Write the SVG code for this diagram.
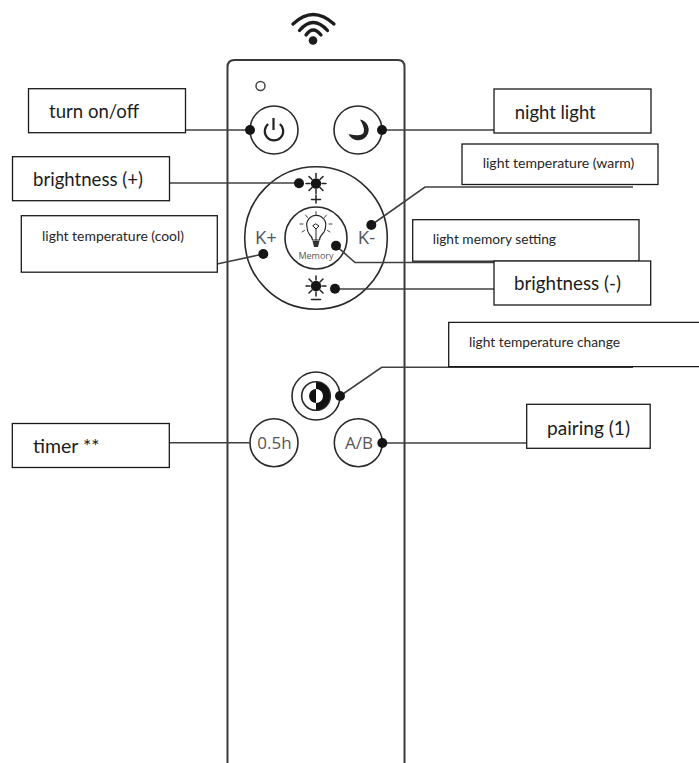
<svg xmlns="http://www.w3.org/2000/svg" width="699" height="763" viewBox="0 0 699 763">
<style>
.box{fill:#fff;stroke:#1a1a1a;stroke-width:1.3}
.big{font:18.5px Lato,"Noto Sans",sans-serif;fill:#1c1c1c}
.small{font:13px Lato,"Noto Sans",sans-serif;fill:#262626}
.ln{fill:none;stroke:#404040;stroke-width:1.6}
.dot{fill:#151515}
.ring{fill:#fff;stroke:#2a2a2a;stroke-width:1.6}
.ico{fill:none;stroke:#222;stroke-linecap:round}
.key{font-family:"Open Sans","DejaVu Sans",sans-serif;fill:#555;text-anchor:middle}
.ray{stroke:#222;stroke-width:1.5;stroke-linecap:round}
.fine{stroke:#444;stroke-width:1;stroke-linecap:round}
</style>
<defs>
<g id="sun">
<circle r="5.200" fill="#151515"/>
<path class="ray" d="M0-10V-6M0 6V10M-10 0H-6M6 0H10M-7-7L-4-4M7-7L4-4M-7 7L-4 4M7 7L4 4"/>
</g>
</defs>
<g id="wifi">
<circle cx="313" cy="40.500" r="4.300" fill="#1d1d1d"/>
<g fill="none" stroke="#1d1d1d" stroke-linecap="round" stroke-width="3.300">
<path d="M293 24Q313 5 334 24"/>
<path d="M299.500 30.500Q313 14.500 327.500 30.500"/>
<path d="M306 35Q313 25 321 35"/>
</g>
</g>
<g id="remote">
<path d="M227.500 763V67Q227.500 60 234.500 60H398Q404.500 60 404.500 67V763" fill="#fff" stroke="#3a3a3a" stroke-width="2"/>
<circle cx="260.500" cy="86" r="4.500" fill="#fff" stroke="#444" stroke-width="1.500"/>
</g>
<g id="btn-power">
<circle class="ring" cx="274" cy="130" r="24"/>
<path d="M268.200 124A9.200 9.200 0 1 0 279.800 124" fill="none" stroke="#222" stroke-width="2.200"/>
<path d="M273.500 118V130" stroke="#222" stroke-width="2.200"/>
</g>
<g id="btn-night">
<circle class="ring" cx="358" cy="130" r="24"/>
<path d="M360 119.500A10.500 10.500 0 1 1 348.500 134Q372 140 360 119.500Z" fill="#222"/>
</g>
<g id="btn-wheel">
<circle class="ring" cx="316" cy="238" r="71.300"/>
<circle class="ring" cx="316" cy="238" r="31"/>
<use href="#sun" x="316" y="183.500"/>
<path class="ray" d="M316 195V203M311.500 199.500H320.500"/>
<use href="#sun" x="316" y="286"/>
<path class="ray" d="M311.500 299.500H320.500"/>
<text class="key" x="266" y="244" font-size="18.500">K+</text>
<text class="key" x="366.500" y="244" font-size="18.500">K-</text>
<g id="bulb">
<path class="ico" stroke-width="1.100" d="M309.500 234.500Q307 231 307 227A9.500 9.500 0 1 1 325.500 227Q325.500 231 322 234.500Q319.500 237 319.500 240H312.500Q312.500 237 309.500 234.500Z"/>
<path d="M312.500 241H319.500L318 247H314Z" fill="#333"/>
<path class="ico" stroke-width="1" d="M316 240V229M313 226L316 229L319 226L316 224Z"/>
<path class="fine" d="M316 211.500V214.500M305.500 215L307.500 217.500M326.500 215L324.500 217.500M300 224H303M332 224H329M302 232L304.500 230.500M330 232L327.500 230.500"/>
</g>
<text class="key" x="316" y="258.700" font-size="9">Memory</text>
</g>
<g id="btn-change">
<circle class="ring" cx="316" cy="396" r="24"/>
<circle class="ring" cx="316" cy="396" r="14.300"/>
<path d="M316 382A14 14 0 0 1 316 410V403A7 7 0 0 0 316 389Z" fill="#111"/>
<path d="M316 389A7 7 0 0 0 316 403Z" fill="#111"/>
</g>
<g id="btn-timer">
<circle class="ring" cx="274" cy="442.700" r="24"/>
<text class="key" x="274.500" y="449" font-size="17">0.5h</text>
</g>
<g id="btn-pair">
<circle class="ring" cx="358.300" cy="442.700" r="24"/>
<text class="key" x="359" y="449" font-size="17">A/B</text>
</g>
<g id="connectors">
<path class="ln" d="M185.500 130H250"/>
<path class="ln" d="M382 130H494"/>
<path class="ln" d="M169.500 183H299"/>
<path class="ln" d="M371.300 225L425 187H633"/>
<path class="ln" d="M217 264L263.300 254"/>
<path class="ln" d="M336 245.700L355 262.500H494"/>
<path class="ln" d="M335 289H494"/>
<path class="ln" d="M340 396L381.700 367.300H633"/>
<path class="ln" d="M169 442.700H250"/>
<path class="ln" d="M382.300 443H527"/>
<g class="dot">
<circle cx="250" cy="130" r="5"/>
<circle cx="382" cy="130" r="5"/>
<circle cx="299" cy="183.300" r="5"/>
<circle cx="371.300" cy="225" r="5"/>
<circle cx="263.300" cy="254" r="5"/>
<circle cx="336" cy="245.700" r="5"/>
<circle cx="335" cy="288.700" r="5"/>
<circle cx="340" cy="396" r="5"/>
<circle cx="382.300" cy="443" r="5"/>
</g>
</g>
<g id="label-turn"><rect class="box" x="28.500" y="88.700" width="157" height="44"/><text class="big" x="49" y="118.300" textLength="90" lengthAdjust="spacingAndGlyphs">turn on/off</text></g>
<g id="label-bplus"><rect class="box" x="12.500" y="156.700" width="157" height="44"/><text class="big" x="33" y="186" textLength="110" lengthAdjust="spacingAndGlyphs">brightness (+)</text></g>
<g id="label-cool"><rect class="box" x="21.300" y="215.700" width="196" height="56.500"/><text class="small" x="42" y="241" textLength="142" lengthAdjust="spacingAndGlyphs">light temperature (cool)</text></g>
<g id="label-timer"><rect class="box" x="12.300" y="423.500" width="157" height="44"/><text class="big" x="33" y="452.700" textLength="66.500" lengthAdjust="spacingAndGlyphs">timer **</text></g>
<g id="label-night"><rect class="box" x="494" y="89" width="157" height="44"/><text class="big" x="514.700" y="119.300" textLength="81" lengthAdjust="spacingAndGlyphs">night light</text></g>
<g id="label-warm"><rect class="box" x="462" y="144" width="196" height="40.500"/><text class="small" x="482.700" y="168" textLength="151.600" lengthAdjust="spacingAndGlyphs">light temperature (warm)</text></g>
<g id="label-memory"><rect class="box" x="412.700" y="219.700" width="226.300" height="41.500"/><text class="small" x="432.700" y="244.300" textLength="123.300" lengthAdjust="spacingAndGlyphs">light memory setting</text></g>
<g id="label-bminus"><rect class="box" x="494" y="261" width="156.700" height="44"/><text class="big" x="514" y="290" textLength="107" lengthAdjust="spacingAndGlyphs">brightness (-)</text></g>
<g id="label-change"><path class="box" d="M699 322.300H448.700V366.700H699"/><text class="small" x="469" y="347.300" textLength="151" lengthAdjust="spacingAndGlyphs">light temperature change</text></g>
<g id="label-pair"><rect class="box" x="526.700" y="404.300" width="123.500" height="44"/><text class="big" x="547" y="435" textLength="83" lengthAdjust="spacingAndGlyphs">pairing (1)</text></g>
</svg>
